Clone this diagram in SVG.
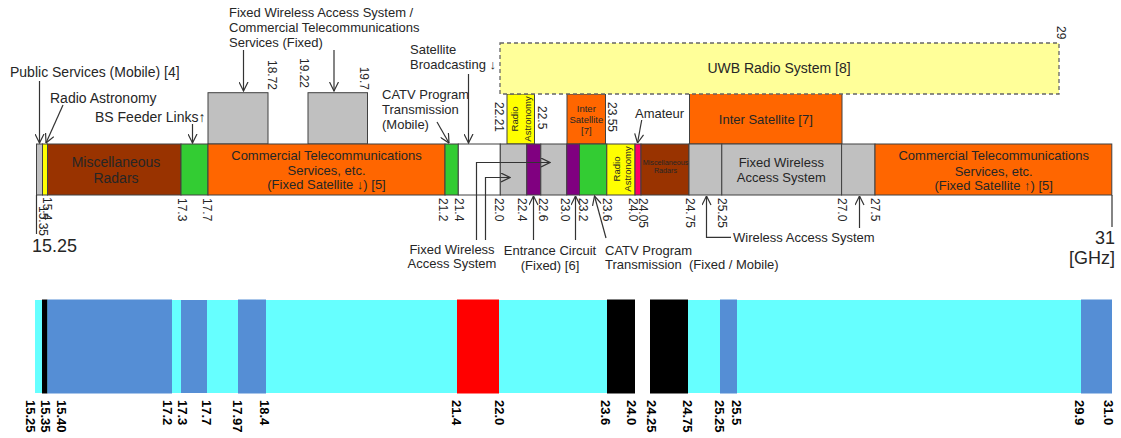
<svg xmlns="http://www.w3.org/2000/svg" width="1121" height="438" viewBox="0 0 1121 438">
<style>
text{font-family:"Liberation Sans",Arial,sans-serif;fill:#262626}
.t13{font-size:13px}
.t14{font-size:14px}
.t18{font-size:18px}
.s95{font-size:9.5px}
.s7{font-size:7.2px}
.n12{font-size:12px}
.b13{font-size:13px;font-weight:bold;fill:#000}
.mid{text-anchor:middle}
.end{text-anchor:end}
.seg{stroke:#404040;stroke-width:1}
.ln{stroke:#333;stroke-width:1.2;fill:none}
.ar{marker-end:url(#arr)}
.gr{fill:#C0C0C0}.or{fill:#FF6600}.gn{fill:#33CC33}.br{fill:#993300}.ye{fill:#FFFF00}.pu{fill:#800080}.pk{fill:#FF0066}.wh{fill:#FFFFFF}
.cy{fill:#66FFFF}.bl{fill:#558ED5}.bk{fill:#000}.rd{fill:#FF0000}
</style>
<defs>
<marker id="arr" viewBox="0 0 10 10" refX="9.5" refY="5" markerWidth="10" markerHeight="10" markerUnits="userSpaceOnUse" orient="auto">
<path d="M0.5,0.5 L9.5,5 L0.5,9.5" fill="none" stroke="#333" stroke-width="1.2"/>
</marker>
</defs>

<!-- upper boxes -->
<g id="fwa-box1"><rect class="seg gr" x="208" y="92.7" width="60" height="51.3"/></g>
<g id="fwa-box2"><rect class="seg gr" x="308" y="92.7" width="59.5" height="51.3"/></g>
<g id="radio-astro-upper">
<rect class="seg ye" x="507" y="94" width="27.5" height="50"/>
<text class="s95 mid" transform="translate(518.3,119) rotate(-90)">Radio</text>
<text class="s95 mid" transform="translate(531.3,119) rotate(-90)">Astronomy</text>
</g>
<g id="inter-sat-small">
<rect class="seg or" x="567" y="94" width="38.5" height="50"/>
<text class="s95 mid" x="586.3" y="111.5">Inter</text>
<text class="s95 mid" x="586.3" y="122.6">Satellite</text>
<text class="s95 mid" x="586.3" y="134">[7]</text>
</g>
<g id="inter-sat-big">
<rect class="seg or" x="689.5" y="93.5" width="152.5" height="50.5"/>
<text class="t13 mid" x="765.8" y="124">Inter Satellite [7]</text>
</g>
<g id="uwb">
<rect x="500" y="43" width="559" height="51" fill="#FFFF99" stroke="#666" stroke-width="1.3" stroke-dasharray="4,3"/>
<text class="t14 mid" x="779" y="73">UWB Radio System [8]</text>
</g>

<!-- main bar segments -->
<g id="bar">
<rect class="seg gr" x="36.5" y="144" width="6" height="51"/>
<rect class="seg ye" x="42.5" y="144" width="5" height="51"/>
<rect class="seg br" x="47.5" y="144" width="133.5" height="51"/>
<rect class="seg gn" x="181" y="144" width="27" height="51"/>
<rect class="seg or" x="208" y="144" width="237" height="51"/>
<rect class="seg gn" x="445" y="144" width="13.3" height="51"/>
<rect class="seg wh" x="458.3" y="144" width="42" height="51"/>
<rect class="seg gr" x="500.3" y="144" width="26.5" height="51"/>
<rect class="seg pu" x="526.8" y="144" width="14" height="51"/>
<rect class="seg gr" x="540.8" y="144" width="26" height="51"/>
<rect class="seg pu" x="566.8" y="144" width="12.7" height="51"/>
<rect class="seg gn" x="579.5" y="144" width="27.3" height="51"/>
<rect class="seg ye" x="606.8" y="144" width="28.2" height="51"/>
<rect class="seg pk" x="635" y="144" width="6" height="51"/>
<rect class="seg br" x="641" y="144" width="48" height="51"/>
<rect class="seg gr" x="689" y="144" width="32.8" height="51"/>
<rect class="seg gr" x="721.8" y="144" width="119.8" height="51"/>
<rect class="seg gr" x="841.6" y="144" width="33.4" height="51"/>
<rect class="seg or" x="875" y="144" width="236.8" height="51"/>
</g>
<g id="bar-labels">
<text class="t14 mid" x="116" y="166.7">Miscellaneous</text>
<text class="t14 mid" x="116" y="183.3">Radars</text>
<text class="t13 mid" x="326.5" y="159.5">Commercial Telecommunications</text>
<text class="t13 mid" x="326.5" y="174.5">Services, etc.</text>
<text class="t13 mid" x="326.5" y="189">(Fixed Satellite ↓) [5]</text>
<text class="s95 mid" transform="translate(620.3,169) rotate(-90)">Radio</text>
<text class="s95 mid" transform="translate(631.3,169) rotate(-90)">Astronomy</text>
<text class="s7 mid" x="665.5" y="164.5">Miscellaneous</text>
<text class="s7 mid" x="665.5" y="172.8">Radars</text>
<text class="t13 mid" x="781.3" y="167">Fixed Wireless</text>
<text class="t13 mid" x="781.3" y="182">Access System</text>
<text class="t13 mid" x="993.7" y="160">Commercial Telecommunications</text>
<text class="t13 mid" x="993.7" y="175.5">Services, etc.</text>
<text class="t13 mid" x="993.7" y="190">(Fixed Satellite ↑) [5]</text>
</g>

<!-- frequency labels -->
<g id="freq-labels">
<text class="n12" transform="translate(43.2,197) rotate(90)">15.4</text>
<text class="n12" transform="translate(38.5,206) rotate(90)">15.35</text>
<text class="n12" transform="translate(177.7,198) rotate(90)">17.3</text>
<text class="n12" transform="translate(202.7,198) rotate(90)">17.7</text>
<text class="n12" transform="translate(438.7,198) rotate(90)">21.2</text>
<text class="n12" transform="translate(454.7,198) rotate(90)">21.4</text>
<text class="n12" transform="translate(494.7,198) rotate(90)">22.0</text>
<text class="n12" transform="translate(517.7,198) rotate(90)">22.4</text>
<text class="n12" transform="translate(538.7,198) rotate(90)">22.6</text>
<text class="n12" transform="translate(560.7,198) rotate(90)">23.0</text>
<text class="n12" transform="translate(578.7,198) rotate(90)">23.2</text>
<text class="n12" transform="translate(603.2,198) rotate(90)">23.6</text>
<text class="n12" transform="translate(628.7,198) rotate(90)">24.0</text>
<text class="n12" transform="translate(638.7,198) rotate(90)">24.05</text>
<text class="n12" transform="translate(685.7,198) rotate(90)">24.75</text>
<text class="n12" transform="translate(717.7,198) rotate(90)">25.25</text>
<text class="n12" transform="translate(837.7,198) rotate(90)">27.0</text>
<text class="n12" transform="translate(871.2,198) rotate(90)">27.5</text>
<text class="n12 end" transform="translate(268.2,90) rotate(90)">18.72</text>
<text class="n12 end" transform="translate(299.7,88) rotate(90)">19.22</text>
<text class="n12 end" transform="translate(359.7,90) rotate(90)">19.7</text>
<text class="n12" transform="translate(494.7,102) rotate(90)">22.21</text>
<text class="n12" transform="translate(537.7,106) rotate(90)">22.5</text>
<text class="n12" transform="translate(607.7,102) rotate(90)">23.55</text>
<text class="n12" transform="translate(1057.2,26) rotate(90)">29</text>
<text class="t18" x="32" y="251.5">15.25</text>
<text class="t18 end" x="1115" y="243.5">31</text>
<text class="t18 end" x="1115" y="264">[GHz]</text>
</g>

<!-- callout labels -->
<g id="labels">
<text class="t14" x="10" y="76.5">Public Services (Mobile) [4]</text>
<text class="t14" x="50" y="103">Radio Astronomy</text>
<text class="t14" x="95" y="121.5">BS Feeder Links↑</text>
<text class="t13" x="229" y="17">Fixed Wireless Access System /</text>
<text class="t13" x="229" y="32">Commercial Telecommunications</text>
<text class="t13" x="229" y="47">Services (Fixed)</text>
<text class="t13" x="410" y="54">Satellite</text>
<text class="t13" x="410" y="69">Broadcasting ↓</text>
<text class="t13" x="382" y="99">CATV Program</text>
<text class="t13" x="382" y="114">Transmission</text>
<text class="t13" x="382" y="129">(Mobile)</text>
<text class="t13" x="635" y="117.5">Amateur</text>
<text class="t13 mid" x="452" y="253.5">Fixed Wireless</text>
<text class="t13 mid" x="452" y="268">Access System</text>
<text class="t13 mid" x="550" y="254.5">Entrance Circuit</text>
<text class="t13 mid" x="550" y="269.5">(Fixed) [6]</text>
<text class="t13" x="605" y="255">CATV Program</text>
<text class="t13" x="605" y="268.5" xml:space="preserve">Transmission  (Fixed / Mobile)</text>
<text class="t13" x="733" y="241.5">Wireless Access System</text>
</g>

<!-- connectors -->
<g id="connectors">
<line class="ln ar" x1="39.5" y1="81" x2="39.5" y2="143"/>
<line class="ln ar" x1="63" y1="105" x2="46" y2="143"/>
<line class="ln ar" x1="192.5" y1="124" x2="192.5" y2="143"/>
<line class="ln ar" x1="243.5" y1="50" x2="243.5" y2="91"/>
<line class="ln ar" x1="334" y1="50" x2="334" y2="91"/>
<line class="ln ar" x1="468.5" y1="74" x2="468.5" y2="143"/>
<line class="ln ar" x1="437" y1="122" x2="449" y2="143"/>
<line class="ln ar" x1="641.7" y1="120" x2="637.5" y2="143"/>
<polyline class="ln ar" points="476.5,240 476.5,162.5 550,162.5"/>
<polyline class="ln ar" points="485.5,240 485.5,177.5 510,177.5"/>
<line class="ln ar" x1="533.5" y1="240" x2="533.5" y2="196"/>
<line class="ln ar" x1="575.5" y1="240" x2="575.5" y2="196"/>
<line class="ln ar" x1="606" y1="238" x2="594.5" y2="196"/>
<polyline class="ln ar" points="731,237.3 706.5,237.3 706.5,196"/>
<line class="ln ar" x1="859.5" y1="228" x2="859.5" y2="196"/>
<line class="ln" x1="36.5" y1="195" x2="36.5" y2="234"/>
<line class="ln" x1="1112" y1="195" x2="1112" y2="227"/>
</g>

<!-- lower allocation bar -->
<g id="lower-bar">
<rect class="cy" x="35" y="300" width="1077" height="93"/>
<rect class="bk" x="42" y="299.5" width="5.5" height="94"/>
<rect class="bl" x="47.5" y="299.5" width="124.5" height="94"/>
<rect class="bl" x="181" y="300" width="26" height="93"/>
<rect class="bl" x="238" y="299.5" width="28" height="94"/>
<rect class="rd" x="457" y="299.5" width="42" height="94"/>
<rect class="bk" x="607" y="299.5" width="28" height="94"/>
<rect fill="#FFFFFF" x="635" y="299.5" width="15" height="94"/>
<rect class="bk" x="650" y="299.5" width="38" height="94"/>
<rect class="bl" x="720" y="299.5" width="17" height="94"/>
<rect class="bl" x="1081" y="299.5" width="31" height="94"/>
</g>
<g id="lower-labels">
<text class="b13" transform="translate(26.4,400) rotate(90)">15.25</text>
<text class="b13" transform="translate(41.4,400) rotate(90)">15.35</text>
<text class="b13" transform="translate(57.4,400) rotate(90)">15.40</text>
<text class="b13" transform="translate(163.4,400) rotate(90)">17.2</text>
<text class="b13" transform="translate(178.4,400) rotate(90)">17.3</text>
<text class="b13" transform="translate(202.4,400) rotate(90)">17.7</text>
<text class="b13" transform="translate(233.4,400) rotate(90)">17.97</text>
<text class="b13" transform="translate(259.9,400) rotate(90)">18.4</text>
<text class="b13" transform="translate(452.4,400) rotate(90)">21.4</text>
<text class="b13" transform="translate(495.4,400) rotate(90)">22.0</text>
<text class="b13" transform="translate(601,400) rotate(90)">23.6</text>
<text class="b13" transform="translate(627,400) rotate(90)">24.0</text>
<text class="b13" transform="translate(647,400) rotate(90)">24.25</text>
<text class="b13" transform="translate(683.4,400) rotate(90)">24.75</text>
<text class="b13" transform="translate(715.4,400) rotate(90)">25.25</text>
<text class="b13" transform="translate(732.4,400) rotate(90)">25.5</text>
<text class="b13" transform="translate(1075.4,400) rotate(90)">29.9</text>
<text class="b13" transform="translate(1104.4,400) rotate(90)">31.0</text>
</g>
</svg>
